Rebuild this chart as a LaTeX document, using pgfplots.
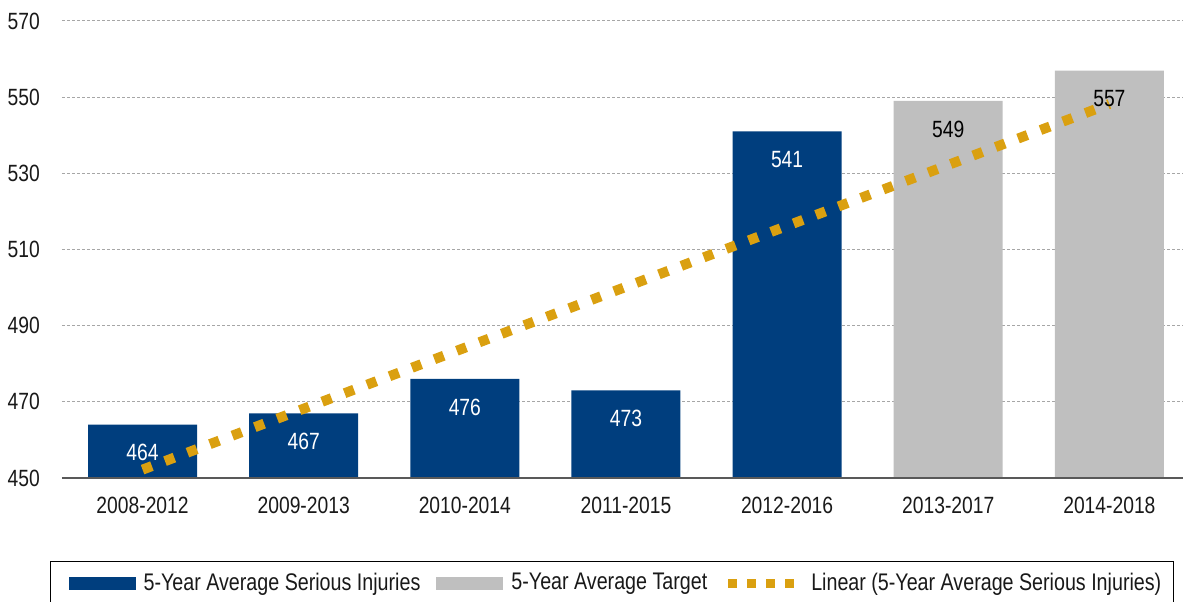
\documentclass[border=0pt]{standalone}
\usepackage{fontspec}
\setmainfont{Liberation Sans}[FakeStretch=0.82]
\usepackage{pgfplots}
\pgfplotsset{compat=1.18}
\definecolor{barblue}{RGB}{0,62,126}
\definecolor{bargray}{RGB}{191,191,191}
\definecolor{trendgold}{RGB}{218,160,16}
\definecolor{txt}{RGB}{25,25,25}
\begin{document}
\fontsize{23.5}{28}\selectfont
\begin{tikzpicture}
\useasboundingbox (-62pt,-124pt) rectangle (1121pt,478pt);
\begin{axis}[
  at={(0pt,0pt)}, anchor=south west,
  scale only axis, width=1128pt, height=457pt,
  xmin=-0.5, xmax=6.5, ymin=450, ymax=570,
  ytick={450,470,...,570},
  xtick={0,...,6},
  xticklabels={2008-2012,2009-2013,2010-2014,2011-2015,2012-2016,2013-2017,2014-2018},
  /pgf/number format/assume math mode=true,
  major tick length=0pt,
  axis line style={draw=none},
  ymajorgrids,
  grid style={draw=black!35, line width=1pt, dash pattern=on 3pt off 2pt},
  ticklabel style={font=\fontsize{23.5}{28}\selectfont, text=txt},
  yticklabel style={anchor=east, inner sep=0pt, xshift=-22pt},
  xticklabel style={anchor=north, inner sep=0pt, yshift=-19pt},
  legend columns=3,
  legend style={at={(-12pt,-83pt)}, anchor=north west, draw=black, line width=1.3pt,
    font=\fontsize{24}{28}\selectfont, text=txt, inner xsep=10pt, inner ysep=9pt,
    /tikz/every even column/.append style={column sep=6pt}},
  legend cell align=left,
]
\addplot[ybar, bar width=109pt, bar shift=0pt, fill=barblue, draw=none,
  nodes near coords, nodes near coords style={anchor=center, inner sep=0pt, yshift=-28pt, text=white, font=\fontsize{23.5}{28}\selectfont},
  legend image code/.code={\path (-8pt,0pt) (73pt,0pt); \fill[barblue] (0pt,-6.5pt) rectangle (67pt,6.5pt);}]
  coordinates {(0,464) (1,467) (2,476) (3,473) (4,541)};
\addlegendentry{5-Year Average Serious Injuries}
\addplot[ybar, bar width=109pt, bar shift=0pt, fill=bargray, draw=none,
  nodes near coords, nodes near coords style={anchor=center, inner sep=0pt, yshift=-28pt, text=black, font=\fontsize{23.5}{28}\selectfont},
  legend image code/.code={\path (-8pt,0pt) (73pt,0pt); \fill[bargray] (0pt,-6.5pt) rectangle (67pt,6.5pt);}]
  coordinates {(5,549) (6,557)};
\addlegendentry{5-Year Average Target}
\addplot[trendgold, line width=10pt, dash pattern=on 10pt off 14pt, mark=none,
  legend image code/.code={\path (-8pt,0pt) (76pt,0pt); \draw[trendgold, line width=9pt, dash pattern=on 8.5pt off 10.5pt] (0pt,0pt) -- (70pt,0pt);}]
  coordinates {(0,452.2) (6,548.2)};
\addlegendentry{Linear (5-Year Average Serious Injuries)}
\draw[black!65, line width=2pt] (axis cs:-0.5,450) -- (axis cs:6.5,450);
\end{axis}
\end{tikzpicture}
\end{document}
